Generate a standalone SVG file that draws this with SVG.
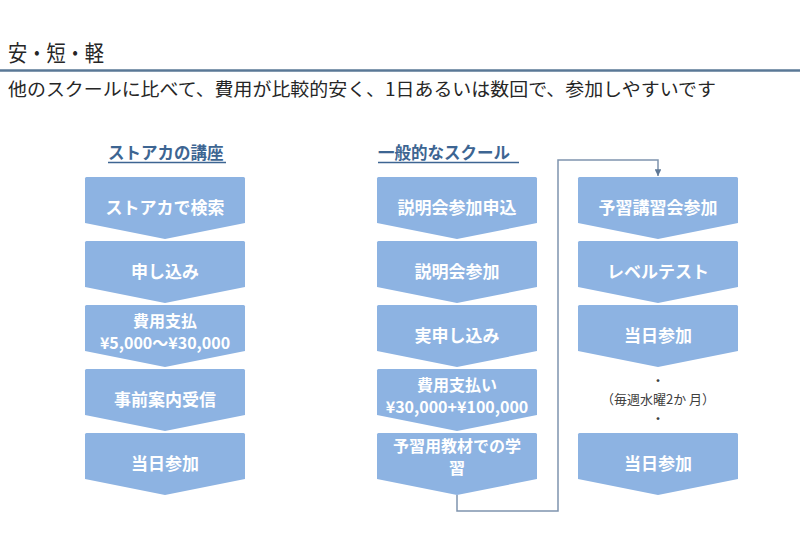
<svg xmlns="http://www.w3.org/2000/svg" xmlns:xlink="http://www.w3.org/1999/xlink" width="800" height="554" viewBox="0 0 800 554">
<style>
  text { font-family: "Noto Sans CJK JP", "Liberation Sans", sans-serif; }
  .title { font-size: 22px; fill: #262626; }
  .sub { font-size: 18px; fill: #262626; }
  .head { font-size: 16.5px; font-weight: bold; fill: #3d6592; }
  .ul { stroke: #3d6592; stroke-width: 1.3; }
  .box { fill: #8db3e2; }
  .lbl { font-size: 17px; font-weight: bold; fill: #ffffff; text-anchor: middle; }
  .lbl2 { font-size: 16px; font-weight: bold; fill: #ffffff; text-anchor: middle; }
  .note { font-size: 13px; fill: #404040; text-anchor: middle; }
  .dot { font-size: 11px; font-weight: bold; fill: #404040; text-anchor: middle; }
  .conn { fill: none; stroke: #7f94ae; stroke-width: 1.5; }
</style>
<defs>
  <path id="chev" class="box" d="M0,1.5 Q0,0 1.5,0 H158.5 Q160,0 160,1.5 V46 L80,62 L0,46 Z"/>
  <marker id="arr" viewBox="0 0 10 10" refX="10" refY="5" markerWidth="4.5" markerHeight="4.5" orient="auto" markerUnits="strokeWidth">
    <path d="M0,0 L10,5 L0,10 Z" fill="#5f7896"/>
  </marker>
</defs>

<g id="header">
  <text class="title" x="8" y="61" textLength="96" lengthAdjust="spacingAndGlyphs">安・短・軽</text>
  <line x1="0" y1="70.5" x2="800" y2="70.5" stroke="#5a7896" stroke-width="2.5"/>
  <text class="sub" x="8" y="96" textLength="708" lengthAdjust="spacingAndGlyphs">他のスクールに比べて、費用が比較的安く、1日あるいは数回で、参加しやすいです</text>
</g>

<g id="heading-left">
  <text class="head" x="108" y="159">ストアカの講座</text>
  <line class="ul" x1="108" y1="162.5" x2="226" y2="162.5"/>
</g>
<g id="heading-mid">
  <text class="head" x="378" y="159">一般的なスクール</text>
  <line class="ul" x1="378" y1="162.5" x2="519" y2="162.5"/>
</g>

<g id="connectors">
  <path class="conn" d="M457,495 V511 H558 V160 H658 V176" marker-end="url(#arr)"/>
</g>

<!-- Left column -->
<g id="l1"><use xlink:href="#chev" x="85" y="177"/><text class="lbl" x="165" y="214">ストアカで検索</text></g>
<g id="l2"><use xlink:href="#chev" x="85" y="241"/><text class="lbl" x="165" y="278">申し込み</text></g>
<g id="l3"><use xlink:href="#chev" x="85" y="305"/><text class="lbl2" x="165" y="327">費用支払</text><text class="lbl2" x="165" y="349">¥5,000～¥30,000</text></g>
<g id="l4"><use xlink:href="#chev" x="85" y="369"/><text class="lbl" x="165" y="406">事前案内受信</text></g>
<g id="l5"><use xlink:href="#chev" x="85" y="433"/><text class="lbl" x="165" y="470">当日参加</text></g>

<!-- Middle column -->
<g id="m1"><use xlink:href="#chev" x="377" y="177"/><text class="lbl" x="457" y="214">説明会参加申込</text></g>
<g id="m2"><use xlink:href="#chev" x="377" y="241"/><text class="lbl" x="457" y="278">説明会参加</text></g>
<g id="m3"><use xlink:href="#chev" x="377" y="305"/><text class="lbl" x="457" y="342">実申し込み</text></g>
<g id="m4"><use xlink:href="#chev" x="377" y="369"/><text class="lbl2" x="457" y="391">費用支払い</text><text class="lbl2" x="457" y="413">¥30,000+¥100,000</text></g>
<g id="m5"><use xlink:href="#chev" x="377" y="433"/><text class="lbl2" x="457" y="452">予習用教材での学</text><text class="lbl2" x="457" y="474">習</text></g>

<!-- Right column -->
<g id="r1"><use xlink:href="#chev" x="578" y="177"/><text class="lbl" x="658" y="214">予習講習会参加</text></g>
<g id="r2"><use xlink:href="#chev" x="578" y="241"/><text class="lbl" x="658" y="278">レベルテスト</text></g>
<g id="r3"><use xlink:href="#chev" x="578" y="305"/><text class="lbl" x="658" y="342">当日参加</text></g>
<g id="r-note">
  <text class="dot" x="658" y="385">・</text>
  <text class="note" x="658" y="404">（毎週水曜2か 月）</text>
  <text class="dot" x="658" y="423">・</text>
</g>
<g id="r4"><use xlink:href="#chev" x="578" y="433"/><text class="lbl" x="658" y="470">当日参加</text></g>
</svg>
